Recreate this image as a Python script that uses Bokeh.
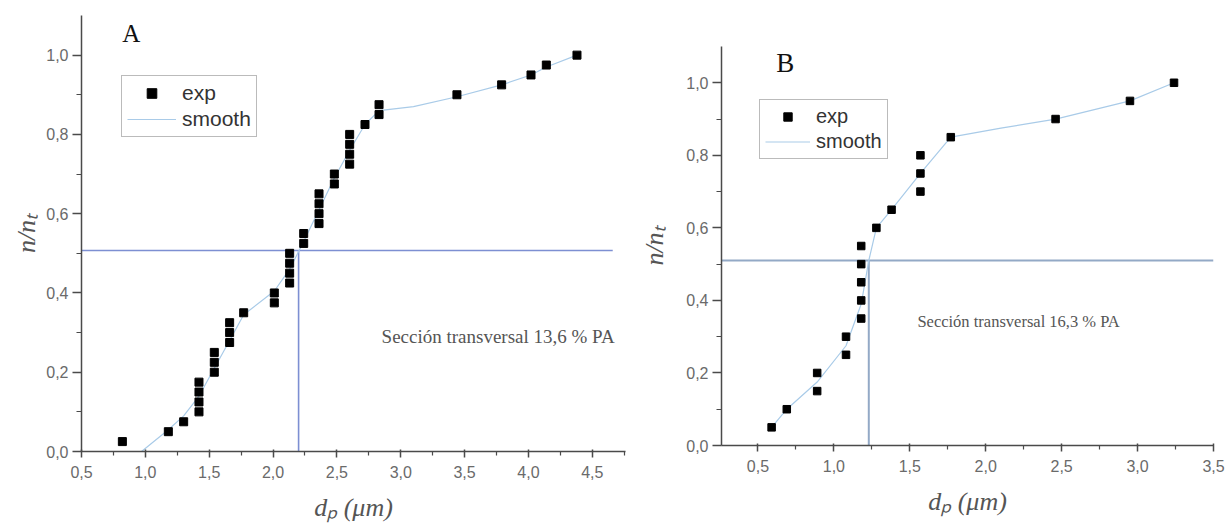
from bokeh.plotting import figure
from bokeh.layouts import row, column
from bokeh.models import Range1d, FixedTicker, CustomJSTickFormatter, Label
from bokeh.embed import file_html
from bokeh.resources import INLINE

# ---------------- data: panel A (13,6 % PA) ----------------
a_exp_x = [0.82, 1.18, 1.30, 1.42, 1.42, 1.42, 1.42, 1.54, 1.54, 1.54,
           1.66, 1.66, 1.66, 1.77, 2.01, 2.01, 2.13, 2.13, 2.13, 2.13,
           2.24, 2.24, 2.36, 2.36, 2.36, 2.36, 2.48, 2.48, 2.60, 2.60,
           2.60, 2.60, 2.72, 2.83, 2.83, 3.44, 3.79, 4.02, 4.14, 4.38]
a_exp_y = [0.025, 0.05, 0.075, 0.10, 0.125, 0.15, 0.175, 0.20, 0.225, 0.25,
           0.275, 0.30, 0.325, 0.35, 0.375, 0.40, 0.425, 0.45, 0.475, 0.50,
           0.525, 0.55, 0.575, 0.60, 0.625, 0.65, 0.675, 0.70, 0.725, 0.75,
           0.775, 0.80, 0.825, 0.85, 0.875, 0.90, 0.925, 0.95, 0.975, 1.00]
a_smooth_x = [0.97, 1.18, 1.30, 1.42, 1.54, 1.66, 1.77, 2.01, 2.13, 2.24, 2.36,
              2.48, 2.60, 2.72, 2.83, 3.10, 3.44, 3.79, 4.02, 4.14, 4.38]
a_smooth_y = [0.0, 0.055, 0.09, 0.14, 0.21, 0.28, 0.345, 0.405, 0.46, 0.53, 0.61,
              0.69, 0.76, 0.825, 0.86, 0.87, 0.895, 0.925, 0.95, 0.97, 1.0]
a_median = 2.2
a_level = 0.507
a_note = "Sección transversal 13,6 % PA"

# ---------------- data: panel B (16,3 % PA) ----------------
b_exp_x = [0.59, 0.69, 0.89, 0.89, 1.08, 1.08, 1.18, 1.18, 1.18, 1.18,
           1.18, 1.28, 1.38, 1.57, 1.57, 1.57, 1.77, 2.46, 2.95, 3.24]
b_exp_y = [0.05, 0.10, 0.15, 0.20, 0.25, 0.30, 0.35, 0.40, 0.45, 0.50,
           0.55, 0.60, 0.65, 0.70, 0.75, 0.80, 0.85, 0.90, 0.95, 1.00]
b_smooth_x = [0.59, 0.69, 0.89, 1.08, 1.18, 1.23, 1.28, 1.38, 1.57, 1.77,
              2.10, 2.46, 2.95, 3.24]
b_smooth_y = [0.05, 0.10, 0.175, 0.275, 0.39, 0.51, 0.60, 0.65, 0.75, 0.85,
              0.875, 0.90, 0.95, 1.0]
b_median = 1.23
b_level = 0.51
b_note = "Sección transversal 16,3 % PA"

y_ticks = [0.0, 0.2, 0.4, 0.6, 0.8, 1.0]
a_x_ticks = [0.5, 1.0, 1.5, 2.0, 2.5, 3.0, 3.5, 4.0, 4.5]
b_x_ticks = [0.5, 1.0, 1.5, 2.0, 2.5, 3.0, 3.5]

comma_fmt = "return tick.toFixed(1).replace('.', ',');"

AX = "#4a4a4a"
TICKLBL = "#6a6a6a"
SMOOTH = "#a9cbe8"


def style(p, xticks, ylab_standoff):
    p.outline_line_color = None
    p.xgrid.visible = False
    p.ygrid.visible = False
    for ax in (p.xaxis[0], p.yaxis[0]):
        ax.axis_line_color = AX
        ax.axis_line_width = 1.5
        ax.major_tick_line_color = AX
        ax.minor_tick_line_color = AX
        ax.major_tick_line_width = 1.5
        ax.minor_tick_line_width = 1.2
        ax.major_label_text_font = "Liberation Sans"
        ax.major_label_text_font_size = "16px"
        ax.major_label_text_color = TICKLBL
        ax.axis_label_text_font = "Liberation Serif"
        ax.axis_label_text_font_style = "italic"
        ax.axis_label_text_font_size = "26px"
        ax.axis_label_text_color = "#555555"
        ax.formatter = CustomJSTickFormatter(code=comma_fmt)
    p.xaxis.ticker = FixedTicker(ticks=xticks,
                                 minor_ticks=[t + 0.25 for t in [xticks[0] - 0.5] + xticks])
    p.yaxis.ticker = FixedTicker(ticks=y_ticks, minor_ticks=[0.1, 0.3, 0.5, 0.7, 0.9])
    p.xaxis.major_tick_out = 6
    p.xaxis.major_tick_in = 2
    p.xaxis.minor_tick_out = 4
    p.xaxis.minor_tick_in = 0
    p.yaxis.major_tick_out = 9
    p.yaxis.major_tick_in = 0
    p.yaxis.minor_tick_out = 5
    p.yaxis.minor_tick_in = 0
    p.xaxis.major_label_standoff = 8
    p.yaxis.major_label_standoff = 4
    p.yaxis.axis_label_standoff = ylab_standoff
    p.xaxis.axis_label_standoff = 12


def legend_style(p, loc, fsize, gw, gh):
    lg = p.legend[0]
    lg.location = loc
    lg.border_line_color = "#777777"
    lg.border_line_width = 1.2
    lg.background_fill_alpha = 1.0
    lg.label_text_font = "Liberation Sans"
    lg.label_text_font_size = fsize
    lg.label_text_color = "#333333"
    lg.glyph_width = gw
    lg.glyph_height = gh
    lg.label_height = gh
    lg.label_standoff = 6
    lg.padding = 5
    lg.spacing = 2
    lg.margin = 0


# ---------------- panel A ----------------
pA = figure(width=636, height=529, output_backend="svg", toolbar_location=None,
            x_range=Range1d(0.5, 4.76), y_range=Range1d(0, 1.1),
            min_border_left=81, min_border_right=11, min_border_top=15,
            min_border_bottom=78,
            x_axis_label="dₚ (μm)", y_axis_label="n/nₜ")
style(pA, a_x_ticks, 2)
pA.line([a_median, a_median], [0, a_level], line_color="#7d8fd2", line_width=1.6)
pA.line([0.5, 4.66], [a_level, a_level], line_color="#7d8fd2", line_width=1.6)
pA.line(a_smooth_x, a_smooth_y, line_color=SMOOTH, line_width=1.2, legend_label="smooth")
pA.scatter(a_exp_x, a_exp_y, marker="square", size=8, fill_color="black",
           line_color="black", legend_label="exp")
pA.add_layout(Label(x=0.82, y=1.055, text="A", text_font="Liberation Serif",
                    text_font_size="25px", text_color="#111111", text_baseline="middle"))
pA.text([2.85], [0.29], text=[a_note], text_font="Liberation Serif",
        text_font_size="19px", text_color="#555555", text_baseline="middle")
legend_style(pA, (40, 314), "21px", 49, 24)
pA.legend[0].items = [pA.legend[0].items[1], pA.legend[0].items[0]]

# ---------------- panel B ----------------
pB = figure(width=592, height=529, output_backend="svg", toolbar_location=None,
            x_range=Range1d(0.26, 3.5), y_range=Range1d(0, 1.1),
            min_border_left=85, min_border_right=15, min_border_top=46,
            min_border_bottom=84,
            x_axis_label="dₚ (μm)", y_axis_label="n/nₜ")
style(pB, b_x_ticks, 14)
pB.line([b_median, b_median], [0, b_level], line_color="#93a9c6", line_width=2)
pB.line([0.26, 3.5], [b_level, b_level], line_color="#93a9c6", line_width=2)
pB.line(b_smooth_x, b_smooth_y, line_color=SMOOTH, line_width=1.2, legend_label="smooth")
pB.scatter(b_exp_x, b_exp_y, marker="square", size=7.5, fill_color="black",
           line_color="black", legend_label="exp")
pB.add_layout(Label(x=0.62, y=1.055, text="B", text_font="Liberation Serif",
                    text_font_size="27px", text_color="#111111", text_baseline="middle"))
pB.text([1.55], [0.343], text=[b_note], text_font="Liberation Serif",
        text_font_size="16.5px", text_color="#555555", text_baseline="middle")
legend_style(pB, (38, 286), "20px", 45, 21)
pB.legend[0].items = [pB.legend[0].items[1], pB.legend[0].items[0]]

layout = row(column(pA), column(pB), spacing=0)
open("out.html", "w").write(file_html(layout, INLINE))
